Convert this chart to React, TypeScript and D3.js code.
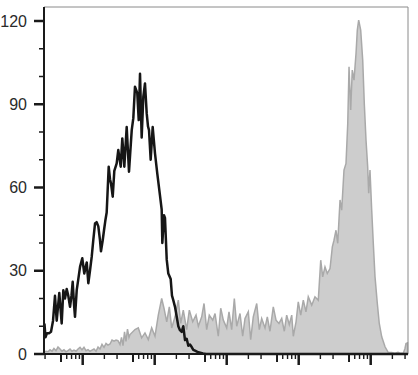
import React from "react";
import * as d3 from "d3";

// log10 fluorescence intensity and event counts
const blackLog = [0.469,0.483,0.504,0.532,0.560,0.588,0.615,0.639,0.675,0.708,0.731,0.754,0.778,0.800,0.824,0.844,0.861,0.879,0.893,0.917,0.939,0.963,0.994,1.022,1.056,1.078,1.101,1.125,1.147,1.171,1.194,1.217,1.240,1.254,1.278,1.296,1.314,1.333,1.361,1.379,1.393,1.417,1.439,1.472,1.494,1.528,1.550,1.578,1.611,1.643,1.681,1.703,1.726,1.758,1.778,1.796,1.819,1.842,1.865,1.889,1.907,1.921,1.944,1.972,2.004,2.036,2.074,2.097,2.106,2.129,2.143,2.167,2.189,2.222,2.240,2.258,2.282,2.306,2.328,2.351,2.375,2.397,2.421,2.444,2.467,2.490,2.514,2.536,2.560,2.606,2.671,2.713,5.518];
const blackCount = [11,6,7.5,7.5,8,12,21,12,22,11,23,20,23.4,21,17,21,26,18,13.4,23,27,31.4,34.5,29,33,25.5,30,35,41,47,47.5,46,41,37,41,44.6,48,51,67.5,63,61.5,56.7,66,68.7,73.5,67.5,77.7,67.5,81.8,65.7,80.7,85,96.3,94,84.3,101,78,92.7,97.5,86.7,82,80.7,70,81.8,72.3,65,57,52,40,50,49,34,29,27,21,19.4,17,13.4,10,8.6,8,10,5,5.5,3,3.4,2.5,1.5,1.2,0.6,0.2,0,0];

const grayLog = [0.463,0.490,0.518,0.546,0.574,0.601,0.629,0.657,0.685,0.713,0.740,0.768,0.796,0.824,0.851,0.879,0.907,0.935,0.963,0.990,1.018,1.046,1.074,1.101,1.129,1.157,1.185,1.213,1.240,1.268,1.296,1.324,1.351,1.379,1.407,1.435,1.463,1.490,1.518,1.539,1.560,1.581,1.601,1.622,1.643,
1.657,1.726,1.772,1.819,1.865,1.911,1.958,2.004,2.050,2.097,2.129,2.167,2.203,2.236,2.282,2.328,2.361,2.397,2.444,2.481,2.528,2.574,2.606,2.653,2.685,2.722,2.758,2.806,2.838,2.883,2.917,2.953,3.000,3.032,3.069,3.106,3.139,3.185,3.222,3.254,3.300,3.333,3.369,3.417,3.453,3.486,3.532,3.564,3.601,3.647,3.685,3.726,3.764,3.800,3.833,3.869,3.903,3.925,3.963,3.994,4.028,4.064,4.101,4.133,4.181,4.226,4.272,
4.306,4.333,4.365,4.397,4.435,4.467,4.490,4.518,4.542,4.574,4.597,4.629,4.657,4.681,4.699,4.722,4.744,4.768,4.796,4.814,4.833,4.861,4.889,4.911,4.935,4.958,4.972,4.990,5.014,5.036,5.060,5.092,5.119,5.153,5.199,5.244,5.292,5.338,5.379,5.407,5.453,5.476,5.490,5.511];
const grayCount = [0.6,1,0.8,1.5,1,2,1.2,2.5,1.8,1,1.5,0.8,1.2,1.8,1,1.4,1,1.8,2.4,1.5,2.4,1.2,1.6,1,1.4,1.8,1,2.5,1.8,3.5,2.4,3.8,3.2,3.6,5,4.6,5,4.8,3.4,6,3,8,4.5,9,6,
7,8.8,9.4,5.8,7.6,5.2,9.4,6.4,14,20,16.5,11.6,17,9.4,13.4,19.4,11,15.8,8.8,15.8,11.6,14,10,13.4,18.2,8.8,14,12.2,14.6,6.4,16.5,12.2,9.4,15.2,8.8,20,10,14.6,6.4,12.8,15.2,5.2,13.4,18.2,8.8,12.8,9.4,13.4,8.2,17,12.2,11,12.8,8.2,14,10.6,14,6.4,11.6,18.8,14,19.4,15.2,20.6,17.6,20.6,19.4,
33.8,27.8,31.4,29,30.8,38.6,41,44.6,39.9,55.5,51.8,66.3,68.7,83,103.5,87.9,102.3,98.7,108.3,116.7,120.3,116.7,105.9,90.3,77,67.5,57.9,66.3,51.8,39.9,27.8,18.2,11,6.2,2.6,0.5,0.5,0.3,0.6,0.3,0.3,2,3.8,4];

const yTicks = [0, 30, 60, 90, 120];
const yMinorTicks = [10, 20, 40, 50, 70, 80, 100, 110];
const xDecades = [0, 1, 2, 3, 4, 5];
const xMultipliers = [1, 2, 3, 5, 6, 7, 8, 9];
const logMin = 0.4625;
const logMax = 5.518;

export default function App() {
  const W = 418, H = 375;
  const left = 44, right = 408, top = 7, bottom = 354;
  const x = d3.scaleLog().domain([10 ** logMin, 10 ** logMax]).range([left, right]);
  const y = d3.scaleLinear().domain([0, 120]).range([bottom, 21]);

  const gray = grayLog.map((l, i) => ({ v: 10 ** l, c: grayCount[i] }));
  const black = blackLog.map((l, i) => ({ v: 10 ** l, c: blackCount[i] }));

  const area = d3.area<{ v: number; c: number }>().x(d => x(d.v)).y0(y(0)).y1(d => y(d.c));
  const line = d3.line<{ v: number; c: number }>().x(d => x(d.v)).y(d => y(d.c));

  const xTicks: { v: number; m: number }[] = [];
  xDecades.forEach(d => xMultipliers.forEach(m => {
    const v = m * 10 ** d;
    const lv = Math.log10(v);
    if (lv >= logMin - 1e-6 && lv <= logMax) xTicks.push({ v, m });
  }));

  return (
    <svg width={W} height={H} style={{ position: "absolute", left: 0, top: 0, background: "#fff" }}>
      <path d={area(gray) || ""} fill="#cdcdcd" stroke="#a9a9a9" strokeWidth={1.5} />
      <path d={line(black) || ""} fill="none" stroke="#161616" strokeWidth={2.5} strokeLinejoin="round" />
      <line x1={left} x2={right} y1={top} y2={top} stroke="#8a8a8a" strokeWidth={1} />
      <line x1={right} x2={right} y1={top} y2={bottom} stroke="#8a8a8a" strokeWidth={1} />
      <line x1={left} x2={left} y1={top} y2={bottom + 1} stroke="#1a1a1a" strokeWidth={2} />
      <line x1={left - 1} x2={right} y1={bottom} y2={bottom} stroke="#1a1a1a" strokeWidth={2} />
      {yTicks.map(t => (
        <g key={"y" + t}>
          <line x1={left - 10} x2={left} y1={y(t)} y2={y(t)} stroke="#1a1a1a" strokeWidth={2.5} />
          <text x={27} y={y(t)} textAnchor="end" dominantBaseline="central" fontFamily="'Liberation Sans', Arial, sans-serif" fontSize={16} fill="#2a2a2a">{t}</text>
        </g>
      ))}
      {yMinorTicks.map(t => (
        <line key={"ym" + t} x1={left - 5} x2={left} y1={y(t)} y2={y(t)} stroke="#1a1a1a" strokeWidth={1.5} />
      ))}
      {xTicks.map((t, i) => {
        const len = t.m === 1 ? 11 : t.m === 5 ? 8 : 5;
        const w = t.m === 1 ? 2.5 : t.m === 5 ? 2 : 1.4;
        return <line key={"x" + i} x1={x(t.v)} x2={x(t.v)} y1={bottom} y2={bottom + len} stroke="#1a1a1a" strokeWidth={w} />;
      })}
    </svg>
  );
}
